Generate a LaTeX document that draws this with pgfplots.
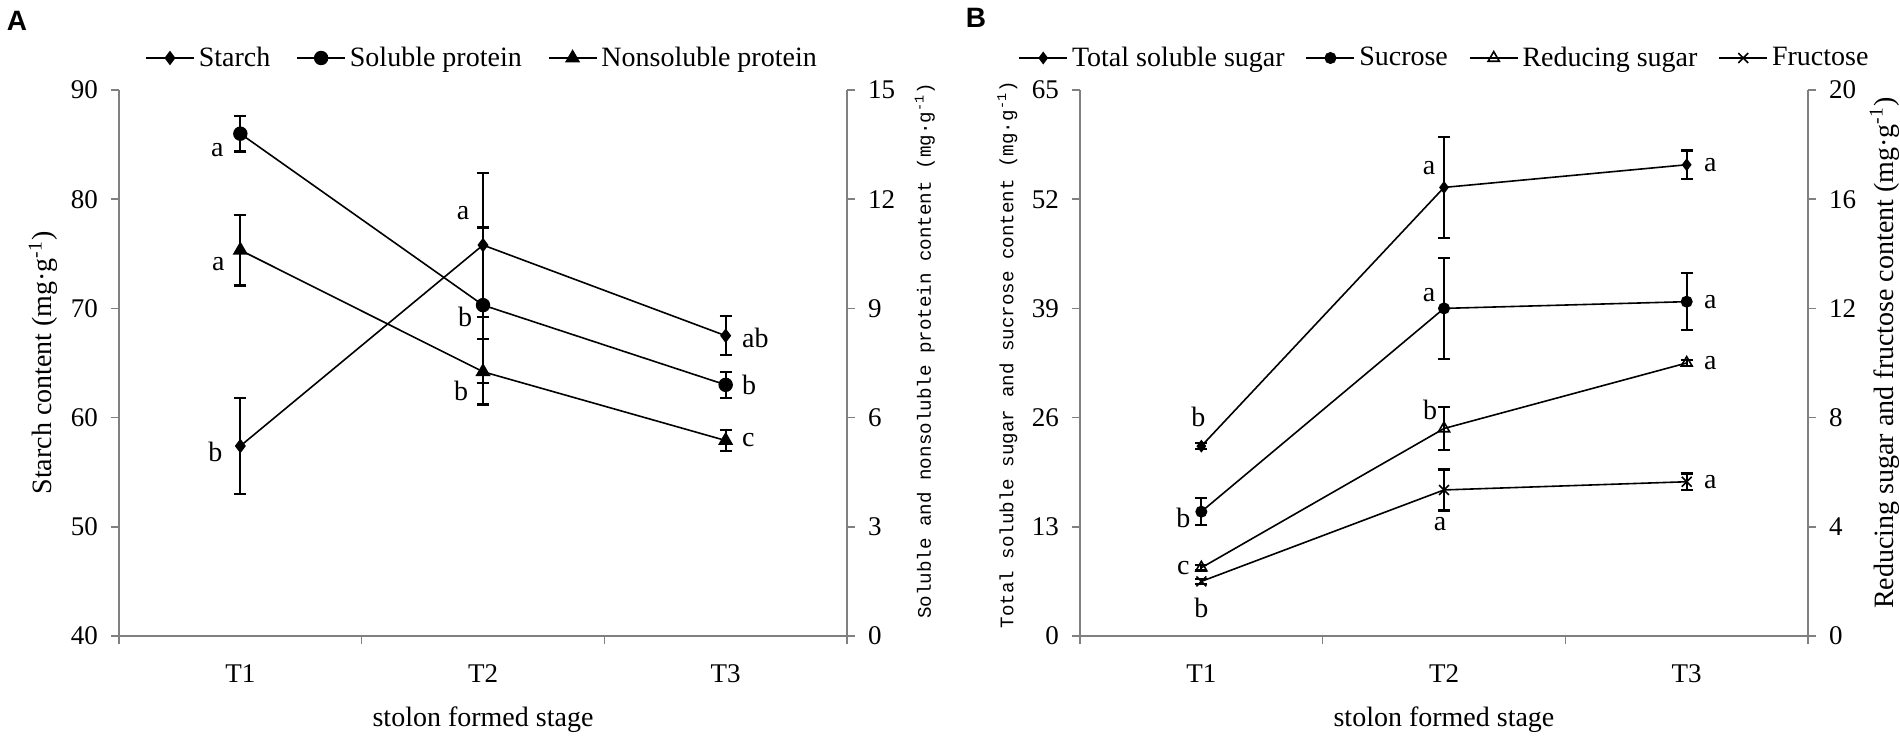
\documentclass[border=0pt]{standalone}
\usepackage{fontspec}
\setmainfont{Liberation Serif}
\newfontfamily\monof{Liberation Mono}
\newfontfamily\sansf{Liberation Sans}
\usepackage{pgfplots}
\pgfplotsset{compat=1.18}
\definecolor{axgray}{RGB}{128,128,128}
\tikzset{lab/.style={font=\fontsize{14}{16}\selectfont, inner sep=0pt}}
\pgfplotsset{
  base/.style={
    scale only axis, width=364pt, height=273pt,
    xmin=-0.5, xmax=2.5,
    tick align=outside,
    axis line style={-, draw=axgray, line width=0.8pt},
    every tick/.style={draw=axgray, line width=0.8pt},
    major tick length=4pt,
    tick label style={font=\fontsize{13.5}{16}\selectfont},
    label style={font=\fontsize{14}{16}\selectfont},
    /pgf/number format/assume math mode=true,
    clip=false,
  },
  leftax/.style={base, axis y line*=left, axis x line*=bottom,
    yticklabel style={xshift=-3pt},
    xtick={-0.5,0.5,1.5,2.5}, xticklabels={},
    extra x ticks={0,1,2}, extra x tick labels={T1,T2,T3},
    extra x tick style={major tick length=0pt, tick label style={yshift=-11pt}},
    xlabel={stolon formed stage},
    xlabel style={at={(axis description cs:0.5,-0.154)}, anchor=center},
  },
  rightax/.style={base, axis y line*=right, axis x line=none, xtick=\empty,
    yticklabel style={xshift=3pt}},
  dline/.style={black, line width=0.8pt},
  myerr/.style={error bars/.cd, y dir=both, y explicit,
    error bar style={line width=1.1pt, black, solid},
    error mark options={rotate=90, line width=1.1pt, mark size=3pt, black}},
  myleg/.style={legend style={draw=none, fill=none, legend columns=-1,
    font=\fontsize{14}{16}\selectfont,
    /tikz/every even column/.append style={column sep=#1}},
    legend image code/.code={\draw[mark repeat=2,mark phase=2,##1] plot coordinates {(0pt,0pt) (12pt,0pt) (24pt,0pt)};}},
}
\begin{document}
\begin{tikzpicture}
\useasboundingbox (0,0) rectangle (950pt,369pt);
\node[font=\sansf\bfseries\fontsize{14}{16}\selectfont] at (8.5pt,358.5pt) {A};
\node[font=\sansf\bfseries\fontsize{14}{16}\selectfont] at (488pt,360pt) {B};
% ---------------- Panel A, left axis
\begin{axis}[leftax, at={(59.5pt,51pt)}, anchor=south west,
  ymin=40, ymax=90, ytick={40,50,...,90},
  ylabel={Starch content (mg·g\textsuperscript{-1})},
  ylabel style={at={(axis description cs:-0.104,0.5)}, anchor=center}]
\addplot[dline, mark=diamond*, mark size=3pt, myerr] coordinates {
 (0,57.4) +- (0,4.4)
 (1,75.8) +- (0,6.6)
 (2,67.5) +- (0,1.8)};
\node[lab, xshift=-12.5pt, yshift=-3pt] at (axis cs:0,57.4) {b};
\node[lab, xshift=-10pt, yshift=16pt] at (axis cs:1,75.8) {a};
\node[lab, anchor=west, xshift=8pt, yshift=-1pt] at (axis cs:2,67.5) {ab};
\end{axis}
% ---------------- Panel A, right axis
\begin{axis}[rightax, at={(59.5pt,51pt)}, anchor=south west,
  ymin=0, ymax=15, ytick={0,3,...,15},
  ylabel={\monof Soluble and nonsoluble protein content (mg·g\textsuperscript{-1})},
  ylabel style={at={(axis description cs:1.107,0.522)}, anchor=center, font=\fontsize{9.6}{11}\selectfont},
  myleg=11pt, legend style={at={(axis description cs:0.5,1.0586)}, anchor=center}]
\addlegendimage{dline, mark=diamond*, mark size=3pt}
\addlegendentry{Starch}
\addplot[dline, mark=*, mark size=3.2pt, myerr] coordinates {
 (0,13.8) +- (0,0.49)
 (1,9.09) +- (0,2.13)
 (2,6.9) +- (0,0.36)};
\addlegendentry{Soluble protein}
\addplot[dline, mark=triangle*, mark size=3.6pt, myerr] coordinates {
 (0,10.6) +- (0,0.97)
 (1,7.26) +- (0,0.9)
 (2,5.37) +- (0,0.29)};
\addlegendentry{Nonsoluble protein}
\node[lab, xshift=-11.5pt, yshift=-8pt] at (axis cs:0,13.8) {a};
\node[lab, xshift=-11pt, yshift=-7pt] at (axis cs:0,10.6) {a};
\node[lab, xshift=-9pt, yshift=-6pt] at (axis cs:1,9.09) {b};
\node[lab, xshift=-11pt, yshift=-9.5pt] at (axis cs:1,7.26) {b};
\node[lab, anchor=west, xshift=8pt] at (axis cs:2,6.9) {b};
\node[lab, anchor=west, xshift=8pt] at (axis cs:2,5.37) {c};
\end{axis}
% ---------------- Panel B, left axis
\begin{axis}[leftax, at={(540pt,51pt)}, anchor=south west,
  ymin=0, ymax=65, ytick={0,13,26,39,52,65},
  ylabel={\monof Total soluble sugar and sucrose content (mg·g\textsuperscript{-1})},
  ylabel style={at={(axis description cs:-0.1,0.515)}, anchor=center, font=\fontsize{9.6}{11}\selectfont}]
\addplot[dline, mark=diamond*, mark size=2.6pt, myerr] coordinates {
 (0,22.6) +- (0,0.35)
 (1,53.4) +- (0,6.0)
 (2,56.1) +- (0,1.7)};
\addplot[dline, mark=*, mark size=2.6pt, myerr] coordinates {
 (0,14.8) +- (0,1.6)
 (1,39.0) +- (0,6.0)
 (2,39.8) +- (0,3.4)};
\node[lab, xshift=-1.5pt, yshift=14.5pt] at (axis cs:0,22.6) {b};
\node[lab, xshift=-9pt, yshift=-3pt] at (axis cs:0,14.8) {b};
\node[lab, xshift=-7.5pt, yshift=9.5pt] at (axis cs:1,53.4) {a};
\node[lab, xshift=-7.5pt, yshift=6.5pt] at (axis cs:1,39.0) {a};
\node[lab, anchor=west, xshift=8.5pt] at (axis cs:2,56.1) {a};
\node[lab, anchor=west, xshift=8.5pt] at (axis cs:2,39.8) {a};
\end{axis}
% ---------------- Panel B, right axis
\begin{axis}[rightax, at={(540pt,51pt)}, anchor=south west,
  ymin=0, ymax=20, ytick={0,4,...,20},
  ylabel={Reducing sugar and fructose content (mg·g\textsuperscript{-1})},
  ylabel style={at={(axis description cs:1.105,0.518)}, anchor=center},
  myleg=8.5pt, legend style={at={(axis description cs:0.502,1.0586)}, anchor=center}]
\addlegendimage{dline, mark=diamond*, mark size=2.6pt}
\addlegendentry{Total soluble sugar}
\addlegendimage{dline, mark=*, mark size=2.6pt}
\addlegendentry{Sucrose}
\addplot[dline, mark=triangle, mark size=3.2pt, mark options={solid, fill=white}, myerr] coordinates {
 (0,2.5) +- (0,0.1)
 (1,7.6) +- (0,0.8)
 (2,10.0) +- (0,0.12)};
\addlegendentry{Reducing sugar}
\addplot[dline, mark=x, mark size=3.5pt, myerr] coordinates {
 (0,2.0) +- (0,0.1)
 (1,5.35) +- (0,0.75)
 (2,5.65) +- (0,0.3)};
\addlegendentry{Fructose}
\node[lab, xshift=-9pt] at (axis cs:0,2.5) {c};
\node[lab, yshift=-13.5pt] at (axis cs:0,2.0) {b};
\node[lab, xshift=-7pt, yshift=9.5pt] at (axis cs:1,7.6) {b};
\node[lab, xshift=-2pt, yshift=-17pt] at (axis cs:1,5.35) {a};
\node[lab, anchor=west, xshift=8.5pt] at (axis cs:2,10.0) {a};
\node[lab, anchor=west, xshift=8.5pt] at (axis cs:2,5.65) {a};
\end{axis}
\end{tikzpicture}
\end{document}
